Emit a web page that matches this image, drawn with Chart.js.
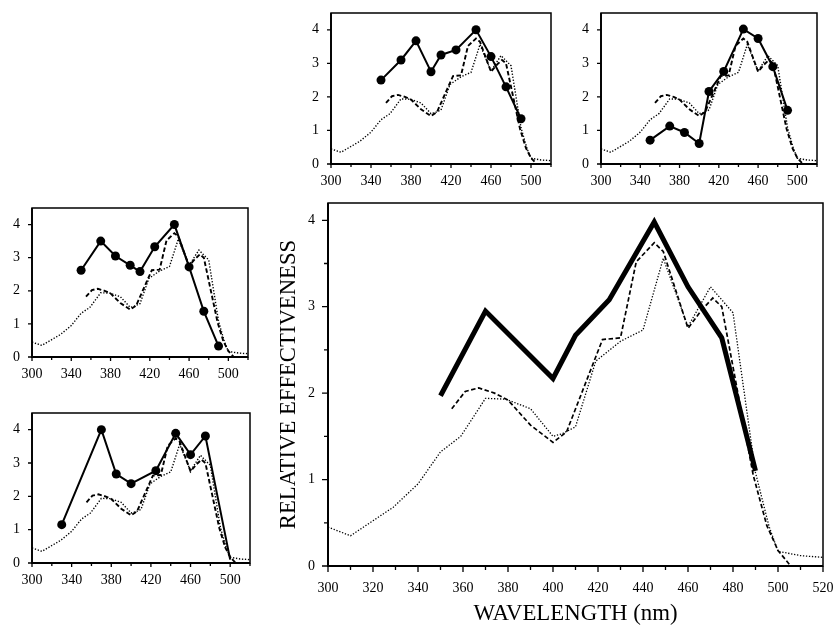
<!DOCTYPE html>
<html>
<head>
<meta charset="utf-8">
<script src="https://cdn.jsdelivr.net/npm/chart.js@4.4.1/dist/chart.umd.min.js"></script>
<style>
  body { margin: 0; background: #fff; }
  #wrap { position: relative; width: 835px; height: 627px; overflow: hidden; background: #fff; }
  canvas { position: absolute; }
</style>
</head>
<body>
<div id="wrap"></div>
<script>
'use strict';

// ******** DATA **************
// dotted reference curve (repeated in every panel)
let dottedWl  = [300, 310, 329, 340, 350, 359, 370, 379, 390, 400, 404, 410, 419, 430, 440, 449, 460, 470, 480, 490, 496, 500, 510, 520];
let dottedVal = [0.45, 0.35, 0.68, 0.95, 1.32, 1.5, 1.94, 1.93, 1.82, 1.5, 1.53, 1.61, 2.37, 2.6, 2.73, 3.56, 2.77, 3.23, 2.93, 1.08, 0.46, 0.17, 0.12, 0.1];

// dashed reference curve (repeated in every panel)
let dashedWl  = [355, 361, 367, 374, 380, 390, 400, 406, 422, 430, 437, 445, 449, 460, 466, 471, 475, 489, 495, 500, 505];
let dashedVal = [1.82, 2.02, 2.06, 2.0, 1.92, 1.63, 1.43, 1.55, 2.62, 2.64, 3.52, 3.74, 3.64, 2.75, 2.96, 3.1, 3.0, 1.05, 0.47, 0.18, 0.02];

// thick curve of the large panel
let mainWl  = [350, 370, 400, 410, 425, 445, 460, 475, 490];
let mainVal = [1.97, 2.95, 2.17, 2.67, 3.08, 3.98, 3.23, 2.64, 1.1];

// measured points of the small panels
let pointWl     = [350, 370, 385, 400, 410, 425, 445, 460, 475, 490];
let topLeftVal  = [2.5, 3.1, 3.67, 2.75, 3.25, 3.4, 4.0, 3.2, 2.3, 1.35];
let topRightVal = [0.71, 1.13, 0.94, 0.61, 2.16, 2.76, 4.02, 3.74, 2.9, 1.6];
let midLeftVal  = [2.62, 3.5, 3.05, 2.77, 2.58, 3.33, 4.0, 2.72, 1.38, 0.33];
let lowWl       = [330, 370, 385, 400, 425, 445, 460, 475, 500];
let lowVal      = [1.15, 4.0, 2.67, 2.38, 2.77, 3.89, 3.25, 3.81, 0.1];

// tick labels
let mainXLabels  = [300, 320, 340, 360, 380, 400, 420, 440, 460, 480, 500, 520];
let smallXLabels = [300, 340, 380, 420, 460, 500];
let yLabels      = [0, 1, 2, 3, 4];

// *********** HELPERS ***************
const FONT = "'Liberation Serif', 'DejaVu Serif', serif";
let wrap = document.getElementById('wrap');

function toPoints(wl, val){
  return wl.map((w, i) => ({x: w, y: val[i]}));
}

function dottedSet(width){
  return { data: toPoints(dottedWl, dottedVal), borderColor: '#000', borderWidth: width,
    borderDash: [1.3, 1.7], pointRadius: 0, tension: 0, fill: false };
}

function dashedSet(width){
  return { data: toPoints(dashedWl, dashedVal), borderColor: '#000', borderWidth: width,
    borderDash: [4.5, 2.5], pointRadius: 0, tension: 0, fill: false };
}

function dotSet(wl, val, radii){
  return { data: toPoints(wl, val), borderColor: '#000', backgroundColor: '#000', borderWidth: 2,
    pointRadius: radii || 4.5, pointBorderWidth: 0, tension: 0, fill: false };
}

// the label overhang would otherwise shrink the plot area
function noOverhang(scale){
  scale.paddingLeft = 0;
  scale.paddingRight = 0;
  scale.paddingTop = 0;
  scale.paddingBottom = 0;
}

// frame round the plot area plus long/short tick marks
const frameAndTicks = {
  id: 'frameAndTicks',
  afterDraw(chart, args, o){
    const {ctx, chartArea: a} = chart;
    const x = chart.scales.x, y = chart.scales.y;
    ctx.save();
    ctx.strokeStyle = '#000';
    ctx.lineWidth = o.frameWidth;
    ctx.strokeRect(a.left, a.top, a.right - a.left, a.bottom - a.top);
    ctx.lineWidth = o.axisWidth;
    ctx.beginPath();
    ctx.moveTo(a.left, a.top);
    ctx.lineTo(a.left, a.bottom);
    ctx.lineTo(a.right, a.bottom);
    ctx.stroke();
    ctx.lineWidth = 1.3;
    ctx.beginPath();
    x.ticks.forEach(t => {
      const px = x.getPixelForValue(t.value);
      const len = o.xLabels.includes(t.value) ? o.major : o.minor;
      ctx.moveTo(px, a.bottom);
      ctx.lineTo(px, a.bottom + len);
    });
    y.ticks.forEach(t => {
      if (t.value >= y.max) return;
      const py = y.getPixelForValue(t.value);
      const len = yLabels.includes(t.value) ? o.major : o.minor;
      ctx.moveTo(a.left, py);
      ctx.lineTo(a.left - len, py);
    });
    ctx.stroke();
    ctx.restore();
  }
};

function makePanel(p){
  let canvas = document.createElement('canvas');
  let left = p.plot.left - p.yw;
  let top = p.plot.top - p.padTop;
  let width = p.plot.right + p.padRight - left;
  let height = p.plot.bottom + p.xh - top;
  canvas.width = width;
  canvas.height = height;
  canvas.style.left = left + 'px';
  canvas.style.top = top + 'px';
  canvas.style.width = width + 'px';
  canvas.style.height = height + 'px';
  wrap.appendChild(canvas);

  new Chart(canvas, {
    type: 'line',
    data: { datasets: p.datasets },
    plugins: [frameAndTicks],
    options: {
      responsive: false,
      animation: false,
      devicePixelRatio: 1,
      layout: { padding: { top: p.padTop, right: p.padRight, left: 0, bottom: 0 } },
      plugins: {
        legend: { display: false },
        tooltip: { enabled: false },
        frameAndTicks: { frameWidth: p.frameWidth, axisWidth: p.axisWidth,
          major: p.major, minor: p.minor, xLabels: p.xLabels }
      },
      scales: {
        x: {
          type: 'linear', min: 300, max: 520,
          grid: { display: false, drawTicks: false },
          border: { display: false },
          ticks: {
            stepSize: p.xStep, autoSkip: false, maxRotation: 0, padding: p.xPad,
            color: '#000', font: { family: FONT, size: p.fontSize },
            callback: v => p.xLabels.includes(v) ? String(v) : ''
          },
          title: p.xTitle ? { display: true, text: p.xTitle, color: '#000',
            font: { family: FONT, size: 22.8, lineHeight: 1 }, padding: { top: 0, bottom: 2 } } : { display: false },
          afterFit(scale){ scale.height = p.xh; noOverhang(scale); }
        },
        y: {
          type: 'linear', min: 0, max: p.ymax,
          grid: { display: false, drawTicks: false },
          border: { display: false },
          ticks: {
            stepSize: 0.5, includeBounds: false, padding: p.yPad,
            color: '#000', font: { family: FONT, size: p.fontSize },
            callback: v => yLabels.includes(v) ? String(v) : ''
          },
          title: p.yTitle ? { display: true, text: p.yTitle, color: '#000',
            font: { family: FONT, size: 22.7, lineHeight: 1 }, padding: { top: 7.5, bottom: 0 } } : { display: false },
          afterFit(scale){ scale.width = p.yw; noOverhang(scale); }
        }
      }
    }
  });
}

function smallPanel(plot, yw, solid){
  makePanel({
    plot: plot, yw: yw, xh: 30, padTop: 13, padRight: 10, ymax: 4.5,
    xStep: 20, xLabels: smallXLabels, fontSize: 14, xPad: 9, yPad: 12,
    frameWidth: 1.5, axisWidth: 1.8, major: 4, minor: 3,
    datasets: [dottedSet(1.4), dashedSet(1.9), solid]
  });
}

// *********** PANELS ***************
smallPanel({left: 331, top: 13, right: 551, bottom: 164}, 40, dotSet(pointWl, topLeftVal));
smallPanel({left: 601, top: 13, right: 817, bottom: 164}, 40, dotSet(pointWl, topRightVal));
smallPanel({left: 32, top: 208, right: 248, bottom: 357}, 32, dotSet(pointWl, midLeftVal));
smallPanel({left: 32, top: 413, right: 250, bottom: 563}, 32,
  dotSet(lowWl, lowVal, lowWl.map((w, i) => i === lowWl.length - 1 ? 0 : 4.5)));

makePanel({
  plot: {left: 328, top: 203, right: 823, bottom: 566}, yw: 58, xh: 61, padTop: 13, padRight: 12,
  ymax: 4.2, xStep: 10, xLabels: mainXLabels, fontSize: 14, xPad: 14, yPad: 13,
  frameWidth: 1.5, axisWidth: 2, major: 6, minor: 4,
  xTitle: 'WAVELENGTH (nm)', yTitle: 'RELATIVE EFFECTIVENESS',
  datasets: [
    dottedSet(1.3),
    dashedSet(1.7),
    { data: toPoints(mainWl, mainVal), borderColor: '#000', borderWidth: 5, pointRadius: 0,
      tension: 0, fill: false, borderJoinStyle: 'miter' }
  ]
});
</script>
</body>
</html>
